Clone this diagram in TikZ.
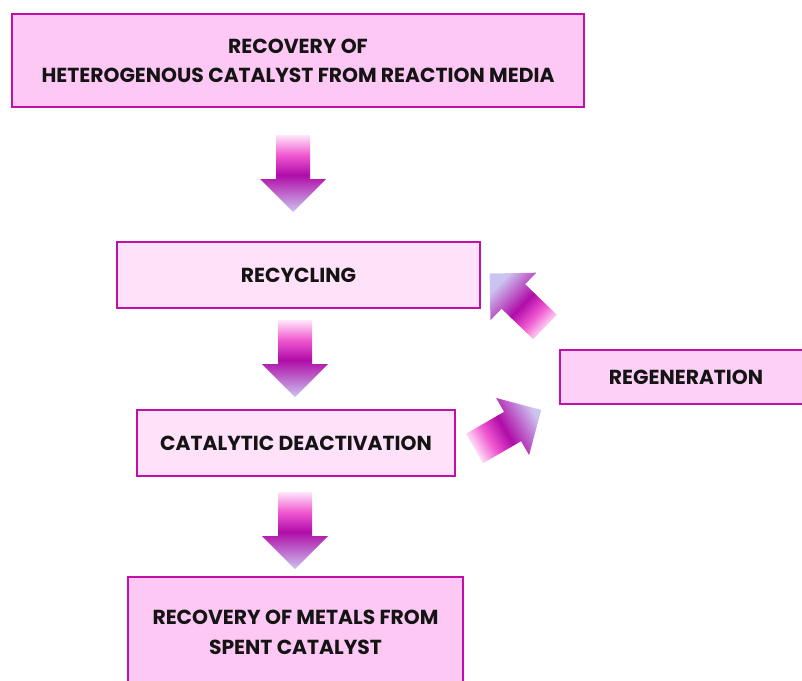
\documentclass[tikz,border=0pt]{standalone}
\usepackage{fontspec}
\setmainfont{Poppins}
\usetikzlibrary{calc}
\definecolor{bordermag}{HTML}{C010A8}
\definecolor{boxpink}{HTML}{FDC8F4}
\definecolor{boxlight}{HTML}{FFE2FA}
\definecolor{boxregen}{HTML}{FDD0F8}
\definecolor{alight}{HTML}{FFE6FA}
\definecolor{apink}{HTML}{F058D0}
\definecolor{amag}{HTML}{B00CA8}
\definecolor{alav}{HTML}{CCC4F0}
\pgfdeclareverticalshading{arrowshade}{100bp}{color(0bp)=(alav); color(25bp)=(alav); color(49bp)=(amag); color(62bp)=(apink); color(75bp)=(alight); color(100bp)=(alight)}
\newcommand\blockarrow[3]{%
  \shade[shading=arrowshade, shading angle=#3, shift={(#1)}, rotate=#2]
    (0,17) -- (44,17) -- (44,33) -- (77,0) -- (44,-33) -- (44,-17) -- (0,-17) -- cycle;}
\begin{document}
\begin{tikzpicture}[x=1pt,y=1pt,
  box/.style={draw=bordermag, line width=2.8pt, rectangle, inner sep=0pt, align=center,
    font=\fontsize{20.3}{29}\selectfont\bfseries, text=black!92}]
\useasboundingbox (0,-680) rectangle (802,0);
\clip (0,-680) rectangle (802,0);
\node[box, fill=boxpink, minimum width=572pt, minimum height=93pt] (top) at (298,-60.5)
  {RECOVERY OF\\HETEROGENOUS CATALYST FROM REACTION MEDIA};
\node[box, fill=boxlight, minimum width=363pt, minimum height=66pt] (recyc) at (298.5,-275) {RECYCLING};
\node[box, fill=boxlight, minimum width=318pt, minimum height=66pt] (deact) at (296,-443) {CATALYTIC DEACTIVATION};
\node[box, fill=boxpink, minimum width=335pt, minimum height=110pt, font=\fontsize{20.3}{30}\selectfont\bfseries] (metals) at (295.5,-632)
  {RECOVERY OF METALS FROM\\SPENT CATALYST};
\node[box, fill=boxregen, minimum width=252pt, minimum height=54pt] (regen) at (686,-377) {REGENERATION};
\coordinate (a1) at (293,-135);
\coordinate (a2) at (295,-320);
\coordinate (a3) at (295,-492);
\coordinate (a4) at (545,-327);
\coordinate (a5) at (474.5,-448.5);
\blockarrow{a1}{-90}{0}
\blockarrow{a2}{-90}{0}
\blockarrow{a3}{-90}{0}
\blockarrow{a4}{136}{226}
\blockarrow{a5}{30}{120}
\end{tikzpicture}
\end{document}
